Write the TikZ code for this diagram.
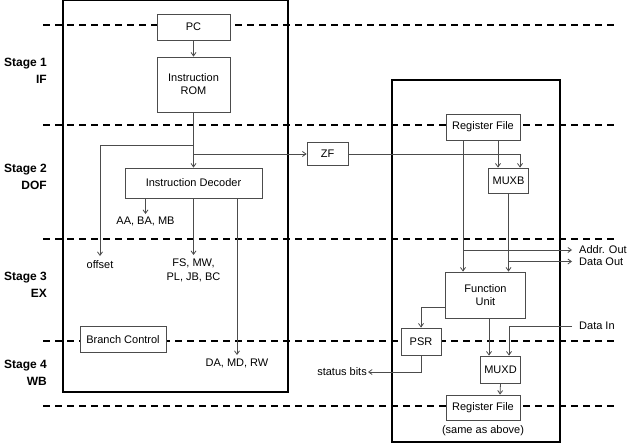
\documentclass[tikz,border=0pt]{standalone}
\usepackage{fontspec}
\setmainfont{Liberation Sans}
\usetikzlibrary{arrows.meta,calc}
\begin{document}
\begin{tikzpicture}[x=1pt,y=-1pt,
  box/.style={draw=black!70,fill=white,line width=0.8pt,inner sep=0pt,font=\fontsize{11}{13}\selectfont,align=center},
  lbl/.style={inner sep=0pt,font=\fontsize{11}{14}\selectfont,align=center},
  stg/.style={inner sep=0pt,font=\fontsize{12}{17}\selectfont\bfseries,align=right,anchor=east},
  conn/.style={draw=black!70,line width=0.8pt,-{Straight Barb[length=3.5pt,width=5pt]}},
  wire/.style={draw=black!70,line width=0.8pt},
  stageline/.style={draw=black,line width=1.4pt,dash pattern=on 7pt off 5pt},
  frame/.style={draw=black,line width=1.2pt}]
\useasboundingbox (0,0) rectangle (628,444);
% frames
\draw[frame] (63,0.8) rectangle (288,392);
\draw[frame] (392,80) rectangle (560,442);
% stage boundaries
\foreach \yy in {25,125,239,341,406}
  \draw[stageline] (43,\yy) -- (614,\yy);
% stage labels
\node[stg] (s1) at (47,70.5) {Stage 1\\IF};
\node[stg] (s2) at (47,177) {Stage 2\\DOF};
\node[stg] (s3) at (47,285) {Stage 3\\EX};
\node[stg] (s4) at (47,373) {Stage 4\\WB};
% left blocks
\node[box,minimum width=73,minimum height=26] (pc) at (193.5,27) {PC};
\node[box,minimum width=73,minimum height=55] (rom) at (193.5,84.5) {Instruction\\ROM};
\node[box,minimum width=137,minimum height=30] (dec) at (193.5,183) {Instruction Decoder};
\node[box,minimum width=86,minimum height=26] (bc) at (123,339.5) {Branch Control};
\node[box,minimum width=41,minimum height=23] (zf) at (327.5,154) {ZF};
% right blocks
\node[box,minimum width=74,minimum height=26] (rf1) at (483,127) {Register File};
\node[box,minimum width=40,minimum height=25] (muxb) at (508.5,180.5) {MUXB};
\node[box,minimum width=80,minimum height=46] (fu) at (485.5,295) {Function\\Unit};
\node[box,minimum width=40,minimum height=27] (psr) at (421,341.5) {PSR};
\node[box,minimum width=40,minimum height=27] (muxd) at (500.5,369.5) {MUXD};
\node[box,minimum width=74,minimum height=25] (rf2) at (483,407.5) {Register File};
% labels
\node[lbl,anchor=north] (offset) at (100,260) {offset};
\node[lbl,anchor=north] (aab) at (145.5,217) {AA, BA, MB};
\node[lbl,anchor=north] (fsl) at (193.5,259) {FS, MW,\\PL, JB, BC};
\node[lbl,anchor=north] (dal) at (237,359) {DA, MD, RW};
\node[lbl,anchor=west] (addr) at (579,250) {Addr. Out};
\node[lbl,anchor=west] (dout) at (579,261.5) {Data Out};
\node[lbl,anchor=west] (din) at (579,326) {Data In};
\node[lbl,anchor=east] (stat) at (367,372) {status bits};
\node[lbl,anchor=north] (same) at (483,425) {(same as above)};
% junctions
\coordinate (j1) at (193.5,145);
\coordinate (j2) at (193.5,154);
\coordinate (ja) at (463,250);
\coordinate (jd) at (509,261.5);
% connectors left
\draw[conn] (pc) -- (rom);
\draw[conn] (rom) -- (dec);
\draw[conn] (j1) -| ([yshift=4]offset.north);
\draw[conn] (j2) -- (zf.west);
\draw[conn] (aab.north |- dec.south) -- ([yshift=3]aab.north);
\draw[conn] (fsl.north |- dec.south) -- ([yshift=4]fsl.north);
\draw[conn] (dal.north |- dec.south) -- ([yshift=4]dal.north);
% connectors right
\draw[conn] (zf.east) -| ([xshift=11.5]muxb.north);
\draw[conn] ([xshift=15]rf1.south) -- ([xshift=-10.5]muxb.north);
\draw[conn] ([xshift=-20]rf1.south) -- ([xshift=-22.5]fu.north);
\draw[conn] (muxb.south) -- ([xshift=23]fu.north);
\draw[conn] (ja) -- ([xshift=-7]addr.west);
\draw[conn] (jd) -- ([xshift=-7]dout.west);
\draw[conn] ([yshift=-12]fu.west) -| (psr.north);
\draw[conn] (psr.south) |- ([xshift=1]stat.east);
\draw[conn] ([xshift=3.5]fu.south) -- ([xshift=-11.5]muxd.north);
\draw[conn] ([xshift=-7]din.west) -| ([xshift=8.5]muxd.north);
\draw[conn] (muxd.south) -- ([xshift=17]rf2.north);
\end{tikzpicture}
\end{document}
